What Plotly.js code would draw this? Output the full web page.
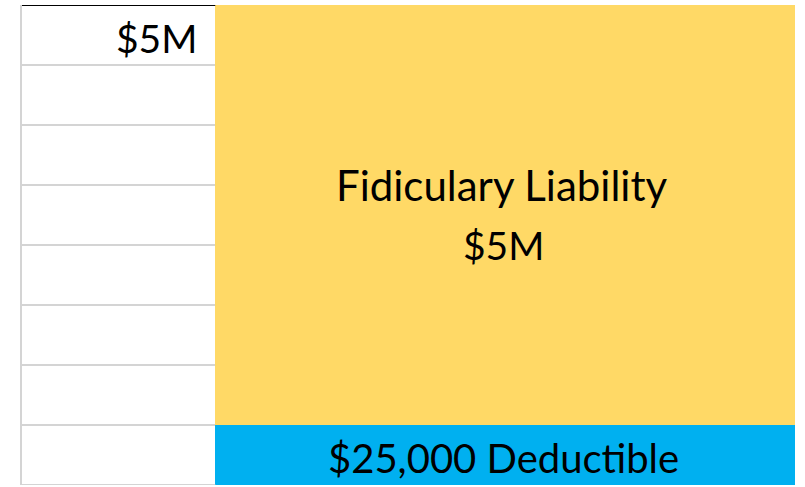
<!DOCTYPE html>
<html><head><meta charset="utf-8">
<script src="https://cdn.plot.ly/plotly-3.0.1.min.js"></script>
<style>html,body{margin:0;padding:0;background:#fff;overflow:hidden}</style>
</head><body><div id="chart" style="width:805px;height:487px"></div>
<script>
// Tower layers (bottom to top)
const layerNames = ["$25,000 Deductible", "Fidiculary Liability"];
const layerLimits = ["", "$5M"];
const layerRows = [1, 7];          // illustrative height of each layer, in tower rows
const towerTopLabel = "$5M";       // label at the top of the scale column

const FONT = "Lato, 'Liberation Sans', sans-serif";
const colors = ["#00B0F0", "#FFD966"];

const traces = layerNames.map((n, i) => ({
  type: "bar", x: [2.5], y: [layerRows[i]], width: [3], name: n,
  marker: {color: colors[i], line: {width: 0}}, hoverinfo: "skip", showlegend: false
}));

let base = 0;
const annotations = [];
layerNames.forEach((n, i) => {
  const lo = base, hi = base + layerRows[i];
  const mid = (lo + hi) / 2;
  if (layerLimits[i]) {
    annotations.push({x: 2.5, y: mid + 0.5, text: n, showarrow: false, xref: "x", yref: "y",
      xshift: -4, font: {family: FONT, size: 42, color: "#000"}});
    annotations.push({x: 2.5, y: mid - 0.5, text: layerLimits[i], showarrow: false, xref: "x", yref: "y",
      xshift: -2, font: {family: FONT, size: 39, color: "#000"}});
  } else {
    annotations.push({x: 2.5, y: mid - 0.05, text: n, showarrow: false, xref: "x", yref: "y",
      xshift: -2, font: {family: FONT, size: 40, color: "#000"}});
  }
  base = hi;
});
const total = layerRows.reduce((a, b) => a + b, 0);
annotations.push({x: 1, y: total - 0.5, text: towerTopLabel, showarrow: false, xref: "x", yref: "y",
  xanchor: "right", xshift: -16, yshift: -3, font: {family: FONT, size: 39, color: "#000"}});

const layout = {
  width: 805, height: 487,
  margin: {l: 22, r: 10, t: 5, b: 2, pad: 0},
  paper_bgcolor: "#fff", plot_bgcolor: "#fff",
  barmode: "stack", bargap: 0,
  xaxis: {range: [0, 4], showgrid: false, zeroline: false, showticklabels: false, showline: false, fixedrange: true},
  yaxis: {range: [0, total], tick0: 0, dtick: 1, showgrid: true, gridcolor: "#D4D4D4", gridwidth: 2,
    zeroline: false, showticklabels: false, ticks: "", showline: true, linecolor: "#D4D4D4", linewidth: 2,
    fixedrange: true},
  shapes: [
    {type: "line", xref: "x", yref: "y", x0: 0, x1: 1, y0: total, y1: total, line: {color: "#000", width: 2}},
    {type: "line", xref: "x", yref: "y", x0: 0, x1: 1, y0: 0, y1: 0, line: {color: "#D4D4D4", width: 2}}
  ],
  annotations: annotations
};
Plotly.newPlot("chart", traces, layout, {displayModeBar: false, staticPlot: true});
</script></body></html>
